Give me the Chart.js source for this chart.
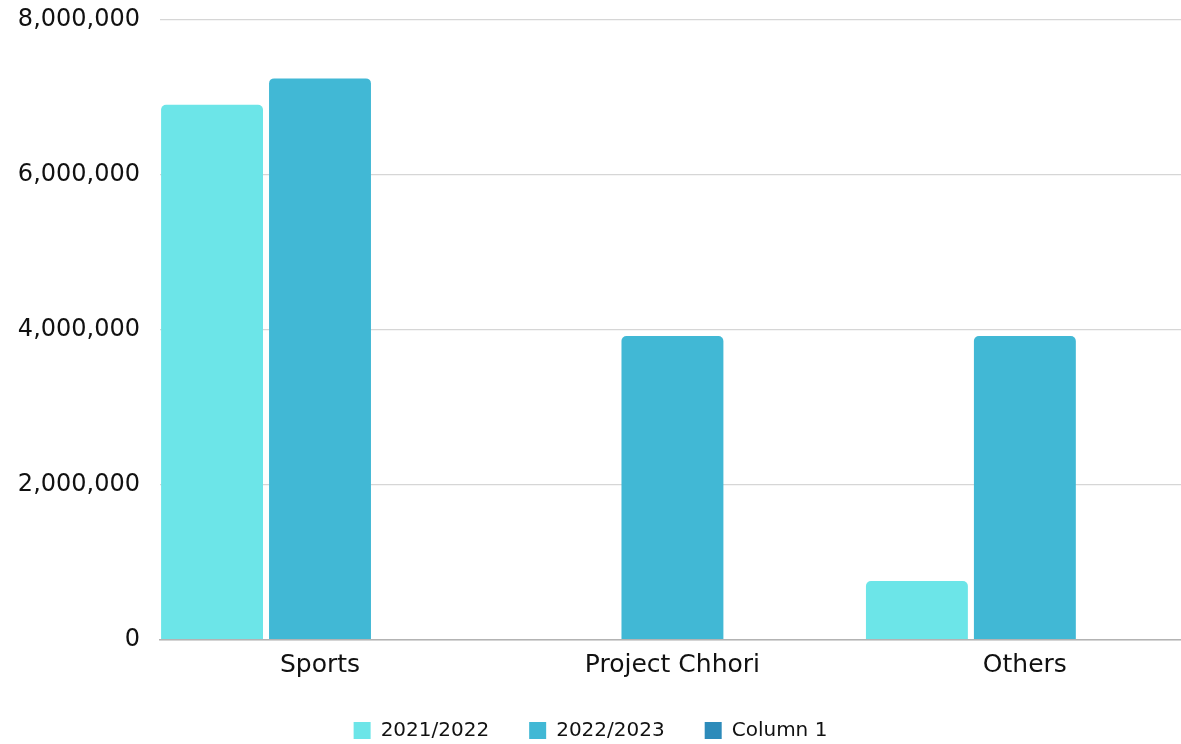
<!DOCTYPE html>
<html>
<head>
<meta charset="utf-8">
<script src="https://cdn.jsdelivr.net/npm/chart.js@4/dist/chart.umd.min.js"></script>
<style>
  html, body { margin: 0; padding: 0; background: #fff; }
  #wrap { width: 1181px; height: 744px; }
</style>
</head>
<body>
<div id="wrap"><canvas id="myChart"></canvas></div>
<script>
(() => {
    "use strict";

    const categories = ["Sports", "Project Chhori", "Others"];
    const seriesNames = ["2021/2022", "2022/2023", "Column 1"];
    const values2122 = [6900000, 0, 755000];
    const values2223 = [7240000, 3915000, 3915000];
    const valuesCol1 = [null, null, null];
    const yTicks = [0, 2000000, 4000000, 6000000, 8000000];

    const colors = ["#6ce5e8", "#41b8d5", "#2d8bba"];
    const font = "'DejaVu Sans', sans-serif";

    // bars sit on a numeric x axis so the groups can line up with the labels
    const toPoints = (arr) => arr.map((v, i) => ({ x: i, y: v }));

    const canvas = document.getElementById("myChart");
    // @ts-ignore
    new Chart(canvas, {
        type: "bar",
        data: {
            datasets: [values2122, values2223, valuesCol1].map((vals, i) => ({
                label: seriesNames[i],
                data: toPoints(vals),
                backgroundColor: colors[i],
                borderRadius: 5,
                borderSkipped: "start",
                categoryPercentage: 0.919,
                barPercentage: 0.944,
            })),
        },
        options: {
            responsive: true,
            maintainAspectRatio: false,
            animation: false,
            layout: { padding: { top: 19.5, right: 0, left: 0, bottom: -6.5 } },
            scales: {
                x: {
                    type: "linear",
                    offset: false,
                    min: -0.454,
                    max: 2.443,
                    grid: { display: false },
                    border: { display: true, color: "#b3b3b3", width: 1.5 },
                    ticks: {
                        stepSize: 1,
                        includeBounds: false,
                        maxRotation: 0,
                        autoSkip: false,
                        padding: 3,
                        color: "#111",
                        font: { family: font, size: 25 },
                        callback: (v) => (Number.isInteger(v) ? categories[v] : ""),
                    },
                    afterFit: (scale) => { scale.height = 41; },
                },
                y: {
                    min: 0,
                    max: 8000000,
                    grid: { color: "#d6d6d6", lineWidth: 1.2, drawTicks: false },
                    border: { display: false },
                    afterBuildTicks: (scale) => {
                        scale.ticks = yTicks.map((v) => ({ value: v }));
                    },
                    afterFit: (scale) => {
                        scale.width = 160;
                        scale.paddingTop = 0;
                        scale.paddingBottom = 0;
                    },
                    ticks: {
                        padding: 20,
                        color: "#111",
                        font: { family: font, size: 24 },
                        callback: (v) => v.toLocaleString("en-US"),
                    },
                },
            },
            plugins: {
                tooltip: { enabled: false },
                legend: {
                    position: "bottom",
                    labels: {
                        boxWidth: 17,
                        boxHeight: 17,
                        padding: 40,
                        color: "#111",
                        font: { family: font, size: 20 },
                    },
                },
            },
        },
    });
})();
</script>
</body>
</html>
